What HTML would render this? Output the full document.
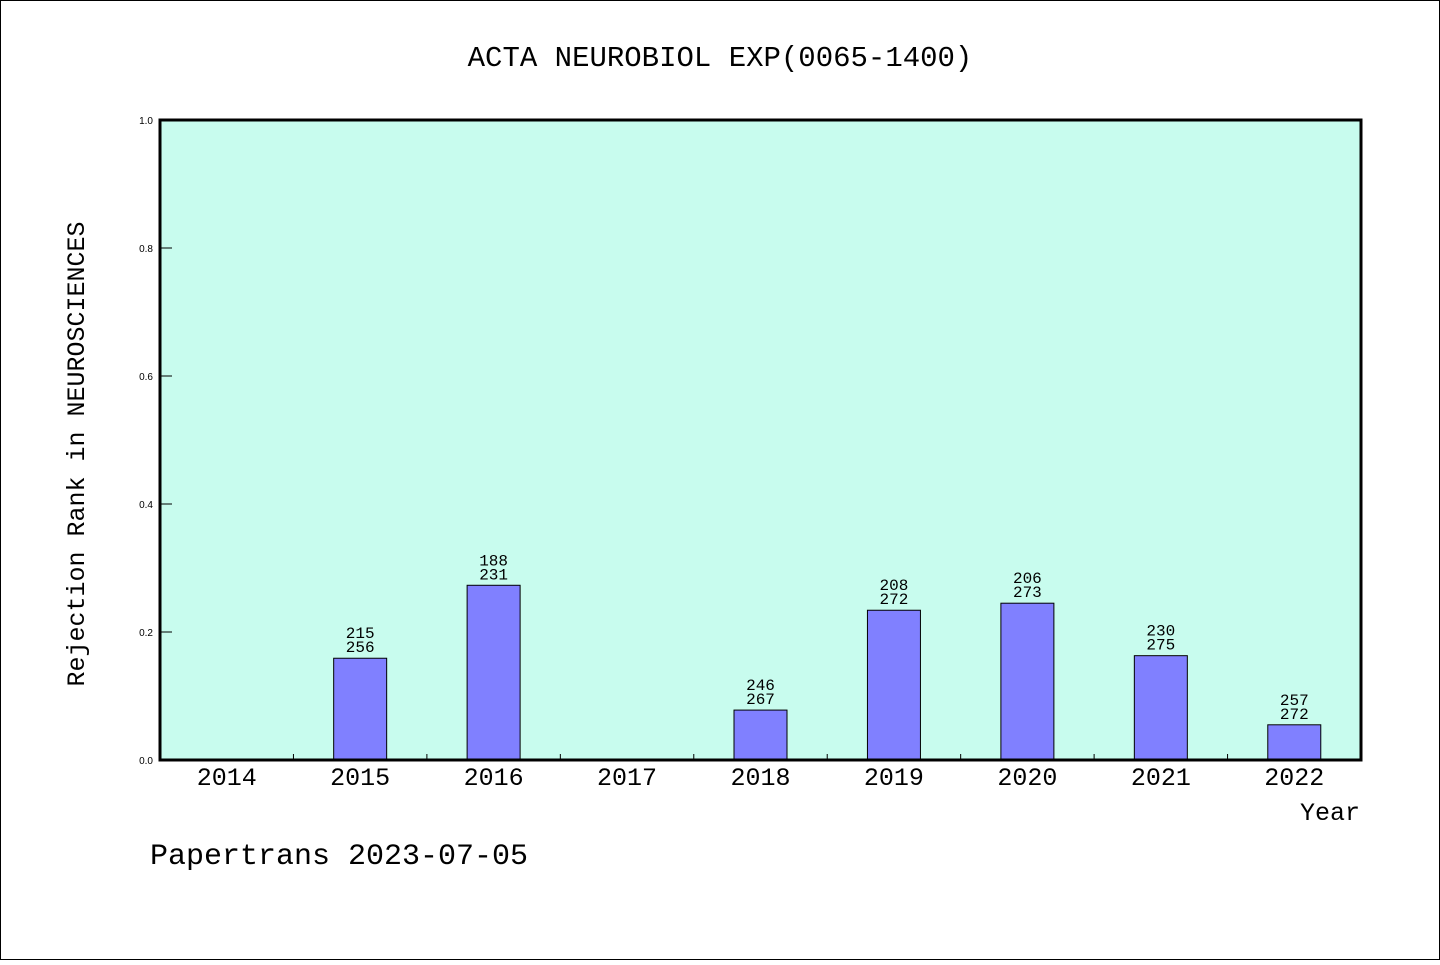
<!DOCTYPE html>
<html><head><meta charset="utf-8"><style>
body{margin:0;background:#fff}
svg text{font-family:"Liberation Mono","DejaVu Sans Mono",monospace;fill:#000}
svg text.tk{font-family:"Liberation Sans",sans-serif}
</style></head><body>
<svg id="c" width="1440" height="960" xmlns="http://www.w3.org/2000/svg">
<rect x="0.5" y="0.5" width="1439" height="959" fill="#fff" stroke="#000"/>
<text x="720" y="66" font-size="29" text-anchor="middle">ACTA NEUROBIOL EXP(0065-1400)</text>
<rect x="160" y="120" width="1201" height="640" fill="#c8fcee"/>
<g id="marks"></g>
<rect x="160" y="120" width="1201" height="640" fill="none" stroke="#000" stroke-width="3"/>
<text transform="translate(84,454) rotate(-90)" font-size="25" text-anchor="middle">Rejection Rank in NEUROSCIENCES</text>
<text x="1360" y="820" font-size="25" text-anchor="end">Year</text>
<text x="150" y="864" font-size="30">Papertrans 2023-07-05</text>
</svg>
<script>
const years=["2014","2015","2016","2017","2018","2019","2020","2021","2022"];
const values=[0,0.159,0.273,0,0.078,0.234,0.245,0.163,0.055];
const ranks=["","215","188","","246","208","206","230","257"];
const totals=["","256","231","","267","272","273","275","272"];
const yTicks=[0,0.2,0.4,0.6,0.8,1.0];
const X0=160,W=1201,Y0=760,H=640,bw=W/years.length;
const xs=i=>X0+bw*(i+0.5);
const ys=v=>Y0-v*H;
const g=document.getElementById('marks');
const NS="http://www.w3.org/2000/svg";
function mk(t,a){const e=document.createElementNS(NS,t);for(const k in a)e.setAttribute(k,a[k]);g.appendChild(e);return e;}
yTicks.forEach(v=>{
 const l=mk('line',{x1:X0,x2:X0+12,y1:ys(v),y2:ys(v),stroke:'#000'});
 
 
 const t=mk('text',{x:X0-7,y:ys(v)+4,'font-size':10,'text-anchor':'end','class':'tk'});
 t.textContent=v.toFixed(1);
 
 
});
years.forEach((y,i)=>{
 if(i>0){const l=mk('line',{x1:X0+bw*i,x2:X0+bw*i,y1:Y0-6,y2:Y0,stroke:'#000'});
 
 }
 const t=mk('text',{x:xs(i),y:Y0+25,'font-size':25,'text-anchor':'middle'});
 t.textContent=y;
 
 
 if(values[i]>0){
  const r=mk('rect',{x:xs(i)-26.5,y:ys(values[i]),width:53,height:Y0-ys(values[i]),fill:'#8080ff',stroke:'#000','stroke-width':1});
  
  
  const a=mk('text',{x:xs(i),y:ys(values[i])-20,'font-size':16,'text-anchor':'middle'});
  a.textContent=ranks[i];
  
  
  const b=mk('text',{x:xs(i),y:ys(values[i])-6,'font-size':16,'text-anchor':'middle'});
  b.textContent=totals[i];
  
  
 }
});
</script>
</body></html>
